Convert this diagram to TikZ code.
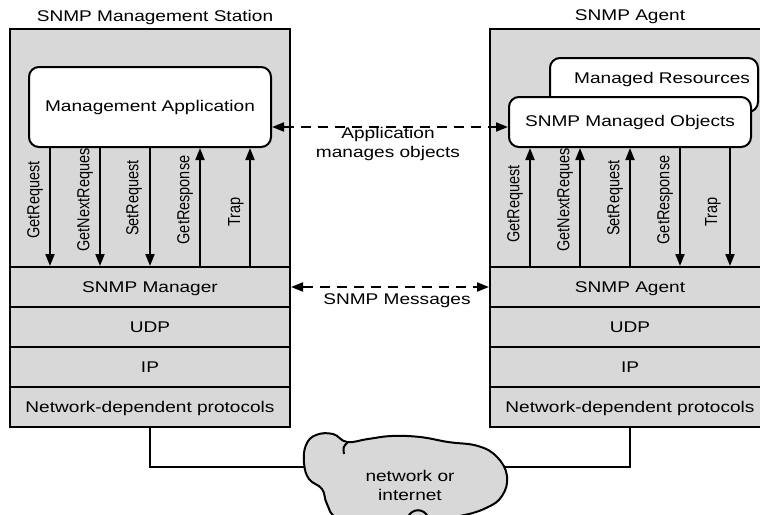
\documentclass[tikz,border=0pt]{standalone}
\usepackage{fontspec}
\setmainfont{Liberation Sans}[FakeStretch=1.23]
\newfontfamily\pdufont{Liberation Sans}
\usepackage{tikz}
\usetikzlibrary{calc,arrows.meta}

\definecolor{stackgray}{RGB}{216,216,216}

\tikzset{
  stackbox/.style={draw, fill=stackgray, inner sep=0pt},
  layer/.style={stackbox, minimum width=280pt, minimum height=40pt, text height=11pt, text depth=0pt},
  appbox/.style={draw, fill=white, rounded corners=10pt, inner sep=0pt},
  pdu/.style={rotate=90, yscale=1.2, font=\pdufont\fontsize{14.5pt}{17pt}\selectfont},
  msgline/.style={-{Triangle[length=12pt,width=9pt]}},
  dashline/.style={{Triangle[length=12pt,width=9pt]}-{Triangle[length=12pt,width=9pt]}, dash pattern=on 10pt off 7pt},
}

\begin{document}
\begin{tikzpicture}[x=1pt, y=-1pt, line width=2pt, font=\fontsize{15.5pt}{19pt}\selectfont]
    \clip (0,0) rectangle (760,514);
    % management station
    \node[stackbox, minimum width=280pt, minimum height=398pt] (station) at (150,228) {};
    \node (stationtitle) at (155,17) {SNMP Management Station};
    \node[layer] (manager) at (150,287) {SNMP Manager};
    \node[layer] (mudp) at (150,327) {UDP};
    \node[layer] (mip) at (150,367) {IP};
    \node[layer] (mnet) at (150,407) {Network-dependent protocols};
    \node[pdu] (mgetreq) at (35,200) {GetRequest};
    \node[pdu] (mgetnext) at (85,200) {GetNextReques};
    \node[pdu] (msetreq) at (134,198) {SetRequest};
    \node[pdu] (mgetresp) at (185,200) {GetResponse};
    \node[pdu] (mtrap) at (236,212) {Trap};
    \node[appbox, minimum width=242pt, minimum height=80pt] (mapp) at (150,107) {Management Application};
    \draw[msgline] ($(mapp.south)+(-100,0)$) -- ($(manager.north)+(-100,0)$);
    \draw[msgline] ($(mapp.south)+(-50,0)$) -- ($(manager.north)+(-50,0)$);
    \draw[msgline] (mapp.south) -- (manager.north);
    \draw[msgline] ($(manager.north)+(50,0)$) -- ($(mapp.south)+(50,0)$);
    \draw[msgline] ($(manager.north)+(100,0)$) -- ($(mapp.south)+(100,0)$);
    % agent
    \node[stackbox, minimum width=280pt, minimum height=398pt] (agentbox) at (630,228) {};
    \node (agenttitle) at (630,17) {SNMP Agent};
    \node[layer] (agent) at (630,287) {SNMP Agent};
    \node[layer] (audp) at (630,327) {UDP};
    \node[layer] (aip) at (630,367) {IP};
    \node[layer] (anet) at (630,407) {Network-dependent protocols};
    \node[pdu] (agetreq) at (515,204) {GetRequest};
    \node[pdu] (agetnext) at (565,200) {GetNextReques};
    \node[pdu] (asetreq) at (615,198) {SetRequest};
    \node[pdu] (agetresp) at (665,200) {GetResponse};
    \node[pdu] (atrap) at (713,212) {Trap};
    \node[appbox, minimum width=208pt, minimum height=54pt, text width=192pt, align=right, text height=11pt, text depth=15pt] (res) at (654,85) {Managed Resources};
    \node[appbox, minimum width=242pt, minimum height=50pt] (objs) at (630,122) {SNMP Managed Objects};
    \draw[msgline] ($(agent.north)+(-100,0)$) -- ($(objs.south)+(-100,0)$);
    \draw[msgline] ($(agent.north)+(-50,0)$) -- ($(objs.south)+(-50,0)$);
    \draw[msgline] (agent.north) -- (objs.south);
    \draw[msgline] ($(objs.south)+(50,0)$) -- ($(agent.north)+(50,0)$);
    \draw[msgline] ($(objs.south)+(100,0)$) -- ($(agent.north)+(100,0)$);
    % messages between the two
    \coordinate (appmsg) at ($(mapp.east)+(0,20)$);
    \draw[dashline] (appmsg) -- (appmsg -| objs.west);
    \node[align=center] (appmsglabel) at (388,144) {Application\\manages objects};
    \draw[dashline] (manager.east) -- (agent.west);
    \node (snmpmsg) at (397,301) {SNMP Messages};
    % network
    \coordinate (netwest) at (305,467);
    \coordinate (neteast) at (505,467);
    \draw (station.south) |- (netwest);
    \draw (agentbox.south) |- (neteast);
    \draw[fill=stackgray] plot[smooth cycle, tension=0.7] coordinates {(304,463) (306,445) (316,435) (333,434) (347,442) (368,439) (392,436) (420,437) (448,442) (478,446) (497,457) (507,476) (502,496) (486,508) (460,516) (420,522) (375,522) (338,518) (327,504) (322,489) (309,479)};
    \draw (348,442) .. controls (343,447) .. (344,454);
    \draw (408,517) .. controls (412,508) and (424,508) .. (428,517);
    \node[align=center] (net) at (410,485) {network or\\internet};
\end{tikzpicture}
\end{document}
